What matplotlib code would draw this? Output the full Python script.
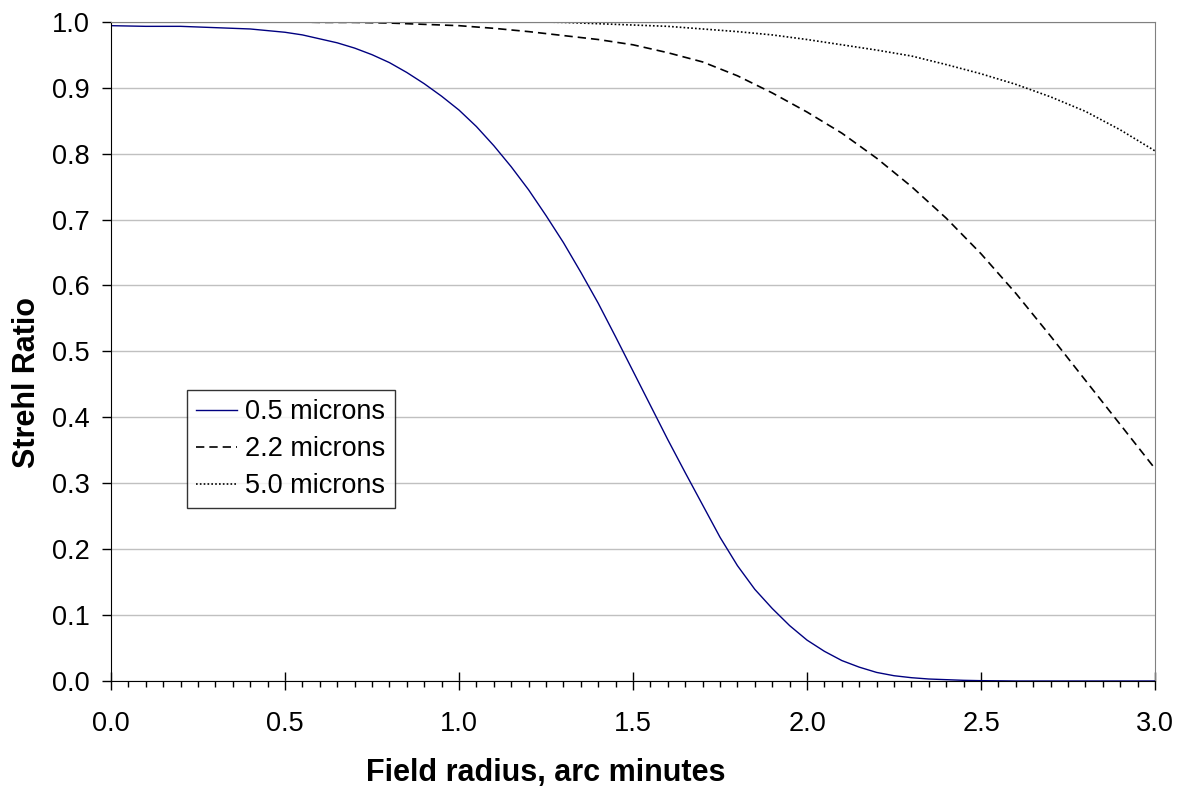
import matplotlib
matplotlib.use("Agg")
import matplotlib.pyplot as plt
from matplotlib.ticker import MultipleLocator

plt.rcParams['font.family'] = ['Liberation Sans', 'DejaVu Sans']

# Strehl ratio vs. field radius for three wavelengths
radius_vis = [0.0, 0.1, 0.2, 0.3, 0.4, 0.5, 0.55, 0.6, 0.65, 0.7, 0.75, 0.8, 0.85, 0.9, 0.95,
              1.0, 1.05, 1.1, 1.15, 1.2, 1.25, 1.3, 1.35, 1.4, 1.45, 1.5, 1.55, 1.6, 1.65,
              1.7, 1.75, 1.8, 1.85, 1.9, 1.95, 2.0, 2.05, 2.1, 2.15, 2.2, 2.25, 2.3, 2.35,
              2.4, 2.45, 2.5, 2.6, 2.7, 2.8, 2.9, 3.0]
strehl_05 = [0.994, 0.993, 0.993, 0.991, 0.989, 0.984, 0.980, 0.974, 0.968, 0.960, 0.950,
             0.938, 0.923, 0.906, 0.887, 0.866, 0.841, 0.812, 0.780, 0.745, 0.706, 0.665,
             0.620, 0.573, 0.522, 0.470, 0.418, 0.366, 0.316, 0.267, 0.218, 0.175, 0.139,
             0.110, 0.084, 0.062, 0.045, 0.031, 0.021, 0.013, 0.008, 0.005, 0.003, 0.002,
             0.001, 0.0005, 0.0, 0.0, 0.0, 0.0, 0.0]

radius_ir = [0.5, 0.6, 0.7, 0.8, 0.9, 1.0, 1.1, 1.2, 1.3, 1.4, 1.5,
             1.6, 1.7, 1.8, 1.9, 2.0, 2.1, 2.2, 2.3, 2.4, 2.5,
             2.6, 2.7, 2.8, 2.9, 3.0]
strehl_22 = [1.000, 0.999, 0.999, 0.998, 0.996, 0.994, 0.990, 0.985, 0.979, 0.973, 0.965,
             0.953, 0.939, 0.918, 0.892, 0.863, 0.831, 0.793, 0.750, 0.702, 0.648,
             0.588, 0.523, 0.456, 0.389, 0.322]
strehl_50 = [1.000, 1.000, 1.000, 1.000, 1.000, 1.000, 1.000, 1.000, 0.999, 0.997, 0.995,
             0.993, 0.989, 0.985, 0.980, 0.973, 0.965, 0.957, 0.948, 0.935, 0.921,
             0.905, 0.886, 0.864, 0.836, 0.804]

labels = ["0.5 microns", "2.2 microns", "5.0 microns"]

fig = plt.figure(figsize=(11.82, 7.87), dpi=100)
ax = fig.add_axes([0.0939, 0.1347, 0.8833, 0.8377])

ax.plot(radius_vis, strehl_05, color='#000080', lw=1.0, label=labels[0])
ax.plot(radius_ir, strehl_22, color='black', lw=1.2, linestyle=(0, (5, 3)), label=labels[1])
ax.plot(radius_ir, strehl_50, color='black', lw=1.2, linestyle=(0, (1, 1.3)), label=labels[2])

ax.set_xlim(0, 3.0)
ax.set_ylim(0, 1.0)
ax.xaxis.set_major_locator(MultipleLocator(0.5))
ax.xaxis.set_minor_locator(MultipleLocator(0.05))
ax.yaxis.set_major_locator(MultipleLocator(0.1))
ax.xaxis.set_major_formatter(plt.FuncFormatter(lambda v, p: f"{v:.1f}"))
ax.yaxis.set_major_formatter(plt.FuncFormatter(lambda v, p: f"{v:.1f}"))

ax.grid(axis='y', color='#c0c0c0', lw=1.0)
ax.set_axisbelow(True)

for side in ('top', 'right'):
    ax.spines[side].set_color('#808080')
for side in ('left', 'bottom'):
    ax.spines[side].set_color('black')

ax.tick_params(axis='x', which='major', direction='inout', length=13, width=1,
               labelsize=19.5, pad=15)
ax.tick_params(axis='x', which='minor', direction='out', length=4.5, width=1)
ax.tick_params(axis='y', which='major', direction='out', length=6.5, width=1,
               labelsize=19.5, pad=9)

# axis titles sit where the chart area puts them, not centred on the axes
fig.text(546 / 1182, 1 - 773 / 787, "Field radius, arc minutes", fontsize=22,
         fontweight='bold', ha='center', va='center')
fig.text(27 / 1182, 1 - 382 / 787, "Strehl Ratio", fontsize=22, fontweight='bold',
         rotation=90, ha='center', va='center')

leg = ax.legend(loc='upper left', bbox_to_anchor=(0.0728, 0.4416), borderaxespad=0,
                fontsize=19.5, frameon=True, fancybox=False, edgecolor='black',
                handlelength=1.5, handletextpad=0.3, labelspacing=0.4,
                borderpad=0.35)
leg.get_frame().set_linewidth(1.0)

fig.savefig("out.png", dpi=100, facecolor='white')
